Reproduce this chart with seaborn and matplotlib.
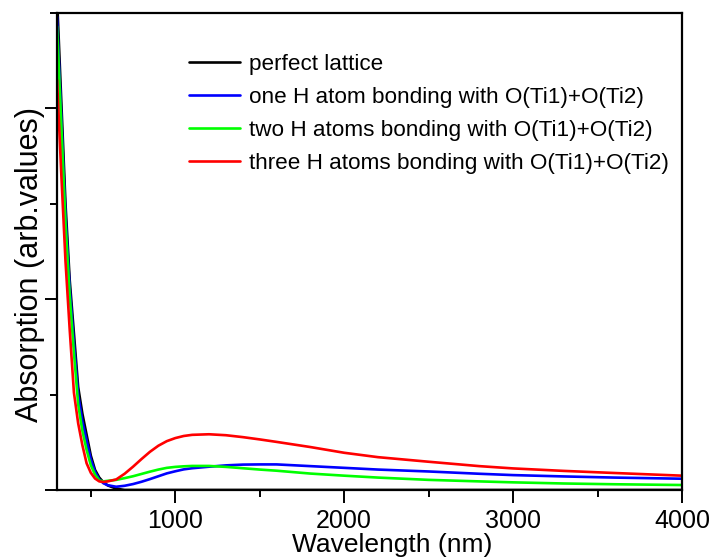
import numpy as np
import pandas as pd
import matplotlib
matplotlib.use("Agg")
import matplotlib.pyplot as plt
from matplotlib.ticker import MultipleLocator
import seaborn as sns

# Wavelength grid (nm)
wavelength = [300, 325, 350, 375, 400, 425, 450, 475, 500, 525, 550, 575, 600,
              650, 700, 750, 800, 850, 900, 950, 1000, 1050, 1100, 1200, 1300,
              1400, 1500, 1600, 1800, 2000, 2200, 2500, 2800, 3000, 3300, 3600, 4000]

# Absorption spectra (arbitrary units)
perfect = [2.58, 2.04, 1.50, 1.10, 0.82, 0.54, 0.40, 0.29, 0.18, 0.105, 0.065, 0.040, 0.024,
           0.007, 0.0, 0.0, 0.0, 0.0, 0.0, 0.0, 0.0, 0.0, 0.0, 0.0, 0.0,
           0.0, 0.0, 0.0, 0.0, 0.0, 0.0, 0.0, 0.0, 0.0, 0.0, 0.0, 0.0]
one_h = [2.48, 1.96, 1.44, 1.06, 0.77, 0.50, 0.36, 0.26, 0.16, 0.095, 0.055, 0.035, 0.025,
         0.017, 0.022, 0.031, 0.043, 0.057, 0.072, 0.087, 0.098, 0.108, 0.114, 0.122, 0.129,
         0.133, 0.134, 0.134, 0.125, 0.116, 0.107, 0.097, 0.085, 0.078, 0.071, 0.065, 0.059]
two_h = [2.43, 1.92, 1.40, 1.02, 0.72, 0.45, 0.31, 0.21, 0.13, 0.080, 0.050, 0.045, 0.048,
         0.053, 0.062, 0.072, 0.084, 0.096, 0.107, 0.116, 0.121, 0.124, 0.126, 0.126, 0.121,
         0.114, 0.107, 0.101, 0.086, 0.075, 0.065, 0.053, 0.045, 0.040, 0.034, 0.030, 0.026]
three_h = [2.15, 1.66, 1.20, 0.84, 0.51, 0.35, 0.235, 0.14, 0.09, 0.060, 0.045, 0.042, 0.045,
           0.055, 0.085, 0.122, 0.162, 0.200, 0.232, 0.256, 0.272, 0.283, 0.289, 0.292, 0.287,
           0.277, 0.265, 0.252, 0.225, 0.195, 0.172, 0.148, 0.125, 0.113, 0.100, 0.089, 0.075]

series_names = ["perfect lattice",
                "one H atom bonding with O(Ti1)+O(Ti2)",
                "two H atoms bonding with O(Ti1)+O(Ti2)",
                "three H atoms bonding with O(Ti1)+O(Ti2)"]
series_values = [perfect, one_h, two_h, three_h]
series_colors = ["#000000", "#0000FF", "#00FF00", "#FF0000"]

frames = [pd.DataFrame({"Wavelength": wavelength, "Absorption": vals, "Structure": name})
          for name, vals in zip(series_names, series_values)]
df = pd.concat(frames, ignore_index=True)

sns.set_theme(style="ticks")
plt.rcParams["font.family"] = ["Liberation Sans", "DejaVu Sans"]
plt.rcParams["text.color"] = "black"
plt.rcParams["axes.labelcolor"] = "black"
plt.rcParams["xtick.color"] = "black"
plt.rcParams["ytick.color"] = "black"

fig = plt.figure(figsize=(7.13, 5.58), dpi=100)
ax = fig.add_axes([0.080, 0.1219, 0.8765, 0.8548])

sns.lineplot(data=df, x="Wavelength", y="Absorption", hue="Structure",
             hue_order=series_names, palette=dict(zip(series_names, series_colors)),
             linewidth=1.9, sort=False, estimator=None, ax=ax)

ax.set_xlim(300, 4000)
ax.set_ylim(0, 2.5)

ax.xaxis.set_major_locator(MultipleLocator(1000))
ax.xaxis.set_minor_locator(MultipleLocator(500))
ax.yaxis.set_major_locator(MultipleLocator(1.0))
ax.yaxis.set_minor_locator(MultipleLocator(0.5))
ax.tick_params(axis="both", which="major", direction="out", length=9, width=1.4,
               labelsize=18, colors="black", pad=5)
ax.tick_params(axis="both", which="minor", direction="out", length=5, width=1.4,
               colors="black")
ax.tick_params(axis="y", which="both", labelleft=False)

for side in ["top", "right", "bottom", "left"]:
    ax.spines[side].set_visible(True)
    ax.spines[side].set_linewidth(1.6)
    ax.spines[side].set_color("black")

ax.set_xlabel("Wavelength (nm)", fontsize=19, color="black")
ax.set_ylabel("Absorption (arb.values)", fontsize=22, color="black")
ax.xaxis.set_label_coords(0.536, -0.090)
ax.yaxis.set_label_coords(-0.020, 0.472)

leg = ax.legend(loc="upper left", bbox_to_anchor=(0.197, 0.933), frameon=False,
                fontsize=16.2, handlelength=2.25, handletextpad=0.4,
                labelspacing=0.53, borderaxespad=0)
for line in leg.get_lines():
    line.set_linewidth(1.9)
for txt in leg.get_texts():
    txt.set_color("black")

fig.savefig("out.png", dpi=100)
